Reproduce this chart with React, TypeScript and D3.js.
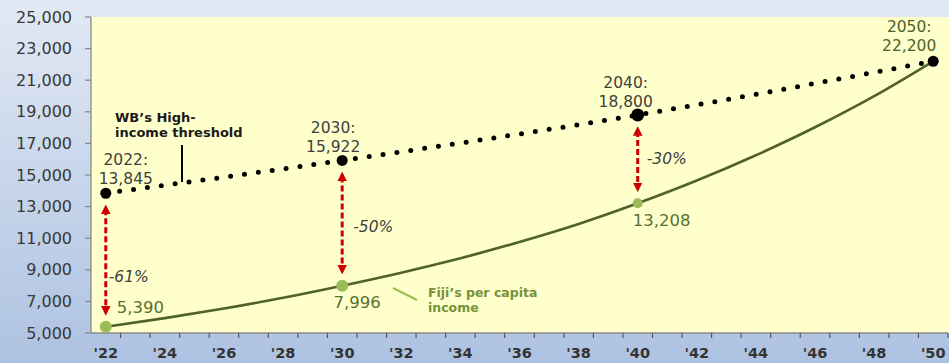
import React from 'react';
import * as d3 from 'd3';

const W = 949;
const H = 363;

// categories on the x axis (one per year) and the labelled ones
const years = [2022, 2023, 2024, 2025, 2026, 2027, 2028, 2029, 2030, 2031, 2032, 2033, 2034, 2035, 2036,
    2037, 2038, 2039, 2040, 2041, 2042, 2043, 2044, 2045, 2046, 2047, 2048, 2049, 2050];
const xTickYears = [2022, 2024, 2026, 2028, 2030, 2032, 2034, 2036, 2038, 2040, 2042, 2044, 2046, 2048, 2050];
const yTicks = [5000, 7000, 9000, 11000, 13000, 15000, 17000, 19000, 21000, 23000, 25000];

// Fiji's per capita income
const incomeYears = [2022, 2024, 2026, 2028, 2030, 2032, 2034, 2036, 2038, 2040, 2042, 2044, 2046, 2048, 2050];
const incomeValues = [5390, 5940, 6550, 7230, 7996, 8820, 9730, 10760, 11900, 13208, 14650, 16250, 18020, 19990, 22200];

// World Bank high-income threshold
const thresholdYears = [2022, 2030, 2040, 2050];
const thresholdValues = [13845, 15922, 18800, 22200];

// gap markers
const gapYears = [2022, 2030, 2040];
const gapLabels = ['-61%', '-50%', '-30%'];
const incomeLabels = ['5,390', '7,996', '13,208'];
const thresholdLabels = [['2022:', '13,845'], ['2030:', '15,922'], ['2040:', '18,800'], ['2050:', '22,200']];

const font = '"DejaVu Sans", Verdana, sans-serif';

const App = () => {
    const plotLeft = 91;
    const plotRight = 948;
    const plotTop = 17;
    const plotBottom = 333;

    const x = d3.scalePoint<number>().domain(years).range([plotLeft, plotRight]).padding(0.5);
    const y = d3.scaleLinear().domain([5000, 25000]).range([plotBottom, plotTop]);
    const step = x.step();

    const incomeLine = d3.line<number>()
        .x((d, i) => x(incomeYears[i]) as number)
        .y(d => y(d))
        .curve(d3.curveMonotoneX);
    const thresholdLine = d3.line<number>()
        .x((d, i) => x(thresholdYears[i]) as number)
        .y(d => y(d))
        .curve(d3.curveMonotoneX);

    const incomeAt = (yr: number) => incomeValues[incomeYears.indexOf(yr)];
    const thresholdAt = (yr: number) => thresholdValues[thresholdYears.indexOf(yr)];

    // label offsets relative to the markers
    const thrLabelPos = [
        { dx: 20, top: 165 },
        { dx: -9, top: 133 },
        { dx: -12, top: 88 },
        { dx: -24, top: 32 },
    ];
    const incLabelPos = [
        { anchor: 'start', dx: 11, base: 313 },
        { anchor: 'middle', dx: 15, base: 308 },
        { anchor: 'middle', dx: 24, base: 226 },
    ];
    const pctPos = [{ dx: 3, yy: 282 }, { dx: 11, yy: 232 }, { dx: 9, yy: 164 }];

    return (
        <svg width={W} height={H} style={{ position: 'absolute', left: 0, top: 0 }} fontFamily={font}>
            <defs>
                <linearGradient id="bg" x1="0" y1="0" x2="0" y2="1">
                    <stop offset="0" stopColor="#e2e9f4" />
                    <stop offset="1" stopColor="#adc2e1" />
                </linearGradient>
                <marker id="ah" viewBox="0 0 10 10" refX="5" refY="5" markerWidth="3.2" markerHeight="3.2"
                    orient="auto-start-reverse">
                    <path d="M0,0 L10,5 L0,10 z" fill="#cc0000" />
                </marker>
            </defs>
            <rect width={W} height={H} fill="url(#bg)" />
            <rect x={plotLeft} y={plotTop} width={W - plotLeft} height={plotBottom - plotTop} fill="#ffffcc" />

            {/* y axis */}
            <line x1={plotLeft} x2={plotLeft} y1={plotTop} y2={plotBottom} stroke="#8a8a8a" strokeWidth={1.3} />
            {yTicks.map(t => (
                <g key={t}>
                    <line x1={plotLeft - 6} x2={plotLeft} y1={y(t)} y2={y(t)} stroke="#8a8a8a" strokeWidth={1.3} />
                    <text x={72} y={y(t) + 5.5} textAnchor="end" fontSize={16} fill="#383838">
                        {d3.format(',')(t)}
                    </text>
                </g>
            ))}

            {/* x axis */}
            <line x1={plotLeft} x2={plotRight} y1={plotBottom} y2={plotBottom} stroke="#8a8a8a" strokeWidth={1.3} />
            {years.map(yr => (
                <line key={yr} x1={(x(yr) as number) + step / 2} x2={(x(yr) as number) + step / 2}
                    y1={plotBottom} y2={plotBottom + 5} stroke="#555" strokeWidth={1.2} />
            ))}
            {xTickYears.map(yr => (
                <text key={yr} x={x(yr)} y={358} textAnchor="middle" fontSize={14.5} fontWeight="bold" fill="#333">
                    {`'${String(yr).slice(2)}`}
                </text>
            ))}

            {/* series */}
            <path d={incomeLine(incomeValues) || ''} fill="none" stroke="#4f6228" strokeWidth={2.6} />
            <path d={thresholdLine(thresholdValues) || ''} fill="none" stroke="#000" strokeWidth={5}
                strokeDasharray="0 14" strokeLinecap="round" />

            {thresholdYears.map(yr => (
                <circle key={yr} cx={x(yr)} cy={y(thresholdAt(yr))} r={yr === 2040 ? 6.5 : 5.5} fill="#000" />
            ))}
            {gapYears.map(yr => (
                <circle key={yr} cx={x(yr)} cy={y(incomeAt(yr))} r={yr === 2040 ? 5 : 6} fill="#9bbb59" />
            ))}

            {/* gap arrows */}
            {gapYears.map((yr, i) => {
                const cx = x(yr) as number;
                const y1 = y(thresholdAt(yr)) + 16;
                const y2 = y(incomeAt(yr)) - 16;
                return (
                    <g key={yr}>
                        <line x1={cx} x2={cx} y1={y1} y2={y2} stroke="#cc0000" strokeWidth={3}
                            strokeDasharray="6 3" markerStart="url(#ah)" markerEnd="url(#ah)" />
                        <text x={cx + pctPos[i].dx} y={pctPos[i].yy} fontSize={15.5} fontStyle="italic" fill="#404040">
                            {gapLabels[i]}
                        </text>
                    </g>
                );
            })}

            {/* threshold labels */}
            {thresholdYears.map((yr, i) => (
                <text key={yr} x={(x(yr) as number) + thrLabelPos[i].dx} y={thrLabelPos[i].top}
                    textAnchor="middle" fontSize={15.5} fill={yr === 2050 ? '#4f6228' : '#404040'}>
                    <tspan>{thresholdLabels[i][0]}</tspan>
                    <tspan x={(x(yr) as number) + thrLabelPos[i].dx} dy={19}>{thresholdLabels[i][1]}</tspan>
                </text>
            ))}

            {/* income labels */}
            {gapYears.map((yr, i) => (
                <text key={yr} x={(x(yr) as number) + incLabelPos[i].dx} y={incLabelPos[i].base}
                    textAnchor={incLabelPos[i].anchor} fontSize={16.5} fill="#56722c">
                    {incomeLabels[i]}
                </text>
            ))}

            {/* series callouts */}
            <text x={115} y={122} fontSize={13} fontWeight="bold" fill="#1a1a1a">
                <tspan>WB’s High-</tspan>
                <tspan x={115} dy={15}>income threshold</tspan>
            </text>
            <line x1={182} x2={182} y1={145} y2={182} stroke="#000" strokeWidth={2} />

            <text x={428} y={297} fontSize={12.5} fontWeight="bold" fill="#76923c">
                <tspan>Fiji’s per capita</tspan>
                <tspan x={428} dy={15}>income</tspan>
            </text>
            <line x1={393} x2={417} y1={288} y2={300} stroke="#9bbb59" strokeWidth={2} />
        </svg>
    );
};

export default App;
